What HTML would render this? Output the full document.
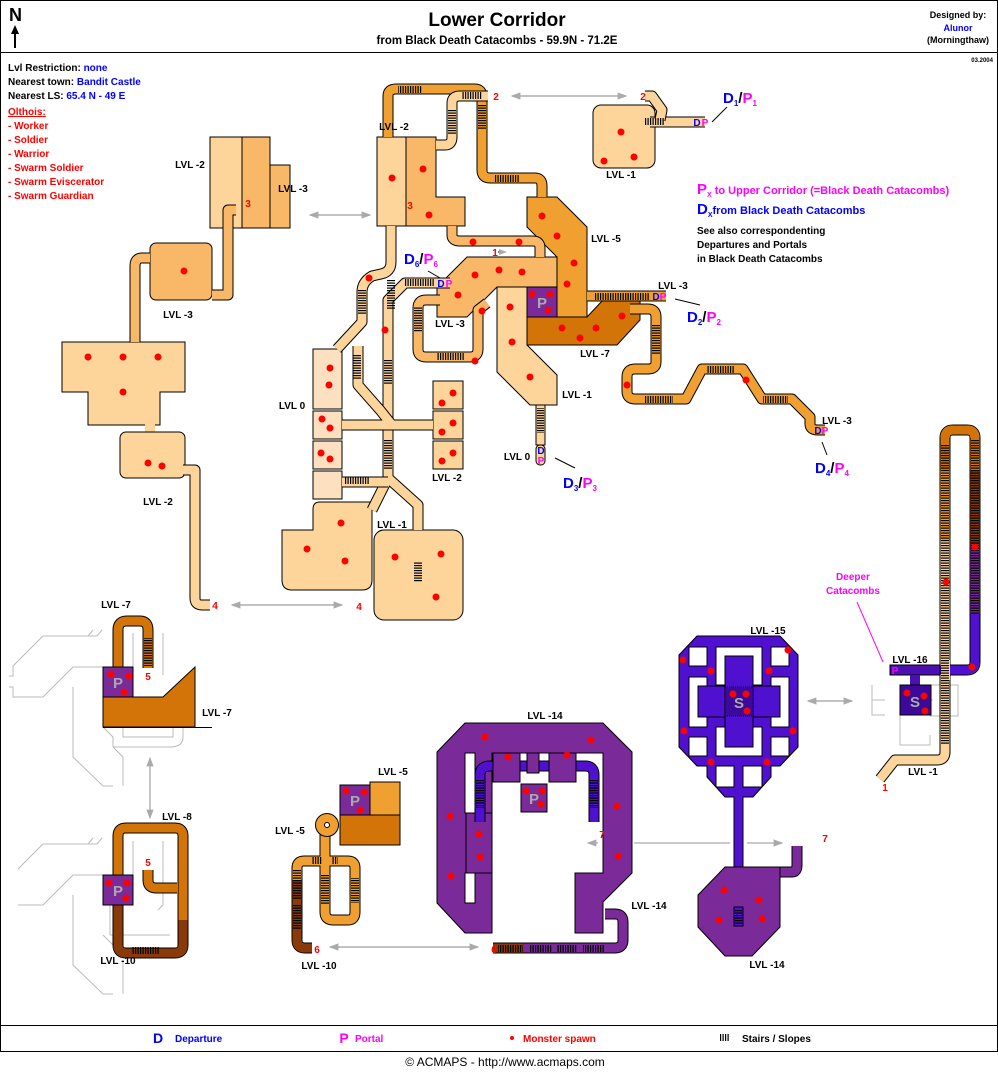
<!DOCTYPE html>
<html><head><meta charset="utf-8"><style>
html,body{margin:0;padding:0;background:#fff}
svg{display:block;font-family:"Liberation Sans",sans-serif;font-weight:bold}
.o{fill:none;stroke:#000;stroke-width:11;stroke-linejoin:round}
.f{fill:none;stroke-width:9;stroke-linejoin:round}
.l{stroke:#FDD49A}.m{stroke:#F9B768}.a{stroke:#F0A030}.d{stroke:#D27408}.b{stroke:#8A3A08}.p{stroke:#7B2A9A}.v{stroke:#5010D0}
.t{font-size:10px;text-anchor:middle;fill:#000}
.r{fill:#f00;font-size:10px;text-anchor:middle}
.g{fill:none;stroke:#bbb;stroke-width:1}
</style></head><body>
<svg width="998" height="1072" viewBox="0 0 998 1072" xmlns="http://www.w3.org/2000/svg">
<defs>
<pattern id="sv" width="2.5" height="10" patternUnits="userSpaceOnUse"><rect width="1.2" height="10" fill="#000"/></pattern>
<pattern id="sh" width="10" height="2.5" patternUnits="userSpaceOnUse"><rect width="10" height="1.2" fill="#000"/></pattern>
<marker id="ah" markerWidth="8" markerHeight="8" refX="7" refY="4" orient="auto"><path d="M0,1 L8,4 L0,7 Z" fill="#aaa"/></marker>
<path id="c1" d="M236,210 L228,210 L228,295 L212,295"/>
<path id="c2" d="M150,258 L142,258 Q135,258 135,266 L135,342"/>
<path id="c3" d="M183,470 L195,470 L195,598 Q195,605 202,605 L210,605"/>
<path id="c4" d="M388,137 L388,96 Q388,89 396,89 L475,89 Q482,89 482,97 L482,170 Q482,178 490,178 L535,178 Q542,178 542,186 L542,197"/>
<path id="c5" d="M436,145 L445,145 Q452,145 452,137 L452,103 Q452,96 460,96 L488,96"/>
<path id="c6" d="M452,226 L452,235 Q452,241 460,241 L533,241 Q540,241 540,248 L540,257"/>
<path id="c7" d="M391,226 L391,262 Q391,272 381,274 L372,276 Q362,282 362,292 L362,322 L337,349"/>
<path id="c8" d="M450,283 L405,283 L388,300 L388,478 L418,505 L418,530 M388,478 L372,510"/>
<path id="c9" d="M358,346 L358,385 L380,410 L392,425 L433,425 M342,425 L392,425 M342,482 L388,482"/>
<path id="c11" d="M440,300 L426,300 Q418,300 418,308 L418,349 Q418,357 426,357 L470,357 Q478,357 478,349 L478,310 L487,303"/>
<path id="c12" d="M587,296 L666,296"/>
<path id="c12b" d="M630,309 L648,309 Q656,309 656,317 L656,362 Q656,369 648,369 L635,369 Q627,369 627,377 L627,391 Q627,399 635,399 L686,399 L702,369 L743,369 L762,399 L792,399 L810,417 L810,424 Q810,430 818,430 L825,430"/>
<path id="c13" d="M650,122 L705,122"/>
<path id="c14" d="M645,96 L652,96 L662,110 L660,120"/>
<path id="c15" d="M118,697 L118,630 Q118,621 127,621 L140,621 Q148,621 148,630 L148,668"/>
<path id="c16" d="M118,875 L118,836 Q118,828 126,828 L175,828 Q183,828 183,836 L183,945 Q183,953 175,953 L126,953 Q118,953 118,945 L118,905"/>
<path id="c16b" d="M118,905 L118,945 Q118,953 126,953 L175,953 Q183,953 183,945 L183,920"/>
<path id="c17" d="M148,870 L148,880 Q148,888 156,888 L177,888"/>
<path id="c18" d="M325,832 L325,912 Q325,920 333,920 L348,920 Q355,920 355,912 L355,868 Q355,861 348,861 L304,861 Q297,861 297,868 L297,940 Q297,948 305,948 L312,948"/>
<path id="c18b" d="M297,880 L297,940 Q297,948 305,948 L312,948"/>
<path id="c19" d="M493,948 L615,948 Q623,948 623,940 L623,922 Q623,914 615,914 L605,914"/>
<path id="c20" d="M480,822 L480,775 Q480,766 490,766 L585,766 Q594,766 594,775 L594,822"/>
<path id="c21" d="M780,872 L792,872 Q797,872 797,865 L797,846"/>
<path id="c22" d="M880,779 L895,760 L937,760 Q945,760 945,752 L945,438 Q945,430 953,430 L967,430 Q975,430 975,438 L975,662 Q975,670 967,670 L905,670"/>
</defs>
<rect x="0.5" y="0.5" width="997" height="1051" fill="#fff" stroke="#000"/>
<line x1="0" y1="52.5" x2="998" y2="52.5" stroke="#000"/>
<line x1="0" y1="1025.5" x2="998" y2="1025.5" stroke="#000"/>
<text x="9" y="21" style="font-size:18px">N</text>
<line x1="15" y1="28" x2="15" y2="48" stroke="#000" stroke-width="2"/><path d="M11,34 L15,25 L19,34 Z"/>
<text x="497" y="26" style="font-size:19px" text-anchor="middle">Lower Corridor</text>
<text x="497" y="44" style="font-size:11.5px" text-anchor="middle">from Black Death Catacombs -    59.9N - 71.2E</text>
<text x="958" y="18" style="font-size:9px" text-anchor="middle">Designed by:</text>
<text x="958" y="31" style="font-size:9px;fill:#00f" text-anchor="middle">Alunor</text>
<text x="958" y="43" style="font-size:9px" text-anchor="middle">(Morningthaw)</text>
<text x="993" y="62" style="font-size:6px" text-anchor="end">03.2004</text>
<g style="font-size:10px">
<text x="8" y="71">Lvl Restriction: <tspan fill="#00f">none</tspan></text>
<text x="8" y="85">Nearest town: <tspan fill="#00f">Bandit Castle</tspan></text>
<text x="8" y="99">Nearest LS: <tspan fill="#00f">65.4 N - 49 E</tspan></text>
<text x="8" y="115" fill="#f00" text-decoration="underline">Olthois:</text>
<g fill="#f00"><text x="8" y="129">- Worker</text><text x="8" y="143">- Soldier</text><text x="8" y="157">- Warrior</text><text x="8" y="171">- Swarm Soldier</text><text x="8" y="185">- Swarm Eviscerator</text><text x="8" y="199">- Swarm Guardian</text></g>
<text x="697" y="194" fill="#f0f" style="font-size:11px"><tspan style="font-size:15px">P</tspan><tspan style="font-size:7px" dy="3">X</tspan><tspan dy="-3"> to Upper Corridor (=Black Death Catacombs)</tspan></text>
<text x="697" y="214" fill="#00f" style="font-size:11px"><tspan style="font-size:15px">D</tspan><tspan style="font-size:7px" dy="3">X</tspan><tspan dy="-3">from Black Death Catacombs</tspan></text>
<text x="697" y="234">See also correspondenting</text>
<text x="697" y="248">Departures and Portals</text>
<text x="697" y="262">in  Black Death Catacombs</text>
</g>
<g class="g">
<path d="M97,636 H43 L13,666 V676 H9 M9,687 H13 V697 H43 L73,667 H103 M73,687 V757 L103,786 H113 M123,786 V757 L113,747 V737 M103,727 L113,737 M113,747 Q118,747 128,747 H170 Q183,747 183,737 V727 M123,727 V737 H173 V727 M163,633 V675 M133,633 V667 M88,636 L93,630 M97,636 L102,630"/>
<path d="M97,844 H43 L18,869 M18,905 H43 L73,875 H103 M73,895 V965 L103,994 H113 M123,994 V960 M103,935 L113,945 M110,935 H170 M163,841 V905 L158,910 M133,841 V875 M88,844 L93,838 M97,844 L102,838 M110,905 V935" />
<path d="M872,685 V715 H885 M872,700 H885 M918,685 H958 V716 H930 M900,715 V745 H930 V735 M930,700 H933"/>
</g>
<g stroke="#000" stroke-width="1">
<rect x="210" y="137" width="33" height="91" fill="#FDD49A"/><rect x="242" y="137" width="28" height="91" fill="#F9B768"/><rect x="270" y="165" width="20" height="63" fill="#F9B768"/>
<rect x="150" y="243" width="62" height="57" rx="6" fill="#F9B768"/>
<path d="M62,342 H185 V392 H160 V425 H88 V392 H62 Z" fill="#FDD49A"/>
<rect x="145" y="424" width="10" height="10" fill="#FDD49A" stroke="none"/>
<rect x="120" y="432" width="65" height="46" rx="6" fill="#FDD49A"/>
<path d="M377,137 H436 V197 H465 V226 H377 Z" fill="#F9B768"/><rect x="377" y="137" width="29" height="89" fill="#FDD49A"/>
<rect x="593" y="105" width="62" height="63" rx="8" fill="#FDD49A"/>
<path d="M527,197 H557 L587,227 V317 H557 V257 L527,227 Z" fill="#F0A030"/>
<path d="M527,317 H587 L603,300 H640 V320 L617,345 H527 Z" fill="#D27408"/>
<path d="M467,257 H557 V287 H497 L467,317 H437 V287 Z" fill="#F9B768"/>
<path d="M497,287 H527 V345 L557,375 V405 H530 L497,372 Z" fill="#FDD49A"/>
<rect x="527" y="287" width="30" height="30" fill="#7B2A9A"/>
<rect x="536" y="405" width="9" height="40" fill="#FDD49A"/>
<rect x="536" y="445" width="9" height="20" rx="4" fill="#FDD49A"/>
<rect x="313" y="349" width="29" height="60" fill="#FDE0C0"/><rect x="313" y="411" width="29" height="28" fill="#FDE0C0"/><rect x="313" y="441" width="29" height="28" fill="#FDE0C0"/><rect x="313" y="471" width="29" height="28" fill="#FDE0C0"/>
<rect x="433" y="381" width="30" height="28" fill="#FDD49A"/><rect x="433" y="411" width="30" height="28" fill="#FDD49A"/><rect x="433" y="441" width="30" height="28" fill="#FDD49A"/>
<path d="M320,502 H372 V580 Q372,590 362,590 H292 Q282,590 282,580 V530 H313 V509 Q313,502 320,502 Z" fill="#FDD49A"/>
<rect x="374" y="530" width="89" height="90" rx="10" fill="#FDD49A"/>
</g>
<g>
<use href="#c1" class="o"/><use href="#c1" class="f m"/>
<use href="#c2" class="o"/><use href="#c2" class="f m"/>
<use href="#c3" class="o"/><use href="#c3" class="f l"/>
<use href="#c4" class="o"/><use href="#c4" class="f a"/>
<use href="#c5" class="o"/><use href="#c5" class="f l"/>
<use href="#c6" class="o"/><use href="#c6" class="f m"/>
<use href="#c7" class="o"/><use href="#c7" class="f l"/>
<use href="#c8" class="o"/><use href="#c8" class="f l"/>
<use href="#c9" class="o"/><use href="#c9" class="f l"/>
<use href="#c11" class="o"/><use href="#c11" class="f m"/>
<use href="#c12" class="o"/><use href="#c12" class="f a"/>
<use href="#c12b" class="o"/><use href="#c12b" class="f a"/>
<use href="#c13" class="o"/><use href="#c13" class="f l"/>
<use href="#c14" class="o"/><use href="#c14" class="f l"/>
<use href="#c15" class="o"/><use href="#c15" class="f d"/>
<use href="#c16" class="o"/><use href="#c16" class="f d"/><use href="#c16b" class="f b"/>
<use href="#c17" class="o"/><use href="#c17" class="f d"/>
<use href="#c18" class="o"/><use href="#c18" class="f a"/><use href="#c18b" class="f b"/>
<circle cx="327" cy="825" r="7" fill="none" stroke="#000" stroke-width="10"/><circle cx="327" cy="825" r="7" fill="none" stroke="#F0A030" stroke-width="8"/>
<use href="#c19" class="o"/><use href="#c19" class="f p"/>
<path d="M493,948 H524" class="f b"/>
<use href="#c21" class="o"/><use href="#c21" class="f p"/>
<use href="#c22" class="o"/><use href="#c22" class="f l"/>
<path d="M945,540 V438 Q945,430 953,430 L967,430 Q975,430 975,438 V480" class="f a"/>
<path d="M945,470 V438 Q945,430 953,430 L967,430 Q975,430 975,438 V470" class="f d"/>
<path d="M975,470 V545" class="f b"/><path d="M975,545 V615" class="f p"/>
<path d="M975,614 V662 Q975,670 967,670 L905,670" class="f v"/>
</g>
<g stroke="#000" stroke-width="1">
<path d="M103,697 H163 L195,667 V727 H103 Z" fill="#D27408"/>
<rect x="103" y="667" width="30" height="30" fill="#7B2A9A"/>
<rect x="103" y="875" width="30" height="30" fill="#7B2A9A"/>
<rect x="340" y="815" width="60" height="30" fill="#D27408"/>
<rect x="370" y="782" width="30" height="33" fill="#F0A030"/>
<rect x="340" y="785" width="30" height="30" fill="#7B2A9A"/>
</g>
<line x1="103" y1="727.5" x2="212" y2="727.5" stroke="#000"/>
<g stroke="#000" stroke-width="1">
<path d="M465,723 L603,723 L632,752 L632,873 L603,902 L603,933 L575,933 L575,873 L603,873 L603,753 L492,753 L492,933 L465,933 L437,903 L437,752 Z" fill="#7B2A9A"/>
<rect x="465" y="753" width="10" height="60" fill="#fff"/><rect x="465" y="873" width="10" height="30" fill="#fff"/>
<rect x="466" y="813" width="26" height="60" fill="#7B2A9A"/>
</g>
<use href="#c20" class="o"/><use href="#c20" class="f v"/>
<g stroke="#000" stroke-width="1" fill="#7B2A9A">
<rect x="493" y="753" width="27" height="29"/><rect x="549" y="753" width="27" height="29"/><rect x="527" y="753" width="12" height="20"/>
<rect x="521" y="784" width="26" height="28"/>
</g>
<path d="M697,636 L780,636 L798,655 L798,747 L780,766 L771,766 L771,777 L753,797 L743,797 L743,867 L734,867 L734,797 L725,797 L707,777 L707,766 L697,766 L679,747 L679,655 Z" fill="#5010D0" stroke="#000"/>
<g fill="#fff" stroke="#000" stroke-width="1">
<rect x="689" y="647" width="18" height="19"/><rect x="771" y="647" width="18" height="19"/>
<rect x="716" y="647" width="46" height="38"/><rect x="689" y="677" width="18" height="50"/><rect x="771" y="677" width="18" height="50"/>
<rect x="716" y="727" width="46" height="29"/>
<rect x="689" y="737" width="18" height="19"/><rect x="771" y="737" width="18" height="19"/>
<rect x="716" y="766" width="18" height="21"/><rect x="743" y="766" width="19" height="21"/>
</g>
<g fill="#5010D0" stroke="#000" stroke-width="1"><rect x="698" y="686" width="82" height="31"/><rect x="725" y="656" width="28" height="91"/></g>
<rect x="725" y="687" width="28" height="29" fill="#3C0A9A" stroke="#000" stroke-dasharray="1,1"/>
<path d="M725,867 L780,867 L780,927 L752,956 L725,956 L698,927 L698,895 Z" fill="#7B2A9A" stroke="#000"/>
<rect x="734" y="907" width="9" height="19" fill="#5010D0" stroke="#000"/>
<rect x="890" y="665" width="50" height="10" fill="#4A10B0" stroke="#000"/>
<rect x="910" y="675" width="10" height="10" fill="#4A10B0"/>
<rect x="900" y="685" width="31" height="30" fill="#3C0A9A" stroke="#000"/>
<rect x="941" y="660" width="9" height="20" fill="#FDD49A"/>
<g fill="url(#sv)">
<rect x="398" y="86" width="24" height="7"/><rect x="462" y="92" width="20" height="7"/><rect x="495" y="175" width="25" height="7"/>
<rect x="595" y="293" width="35" height="7"/><rect x="622" y="293" width="28" height="7"/><rect x="645" y="118" width="20" height="7"/>
<rect x="405" y="279" width="30" height="7"/><rect x="437" y="353" width="28" height="7"/>
<rect x="645" y="396" width="28" height="7"/><rect x="707" y="366" width="28" height="7"/><rect x="763" y="396" width="25" height="7"/>
<rect x="345" y="477" width="25" height="7"/><rect x="312" y="857" width="10" height="7"/><rect x="332" y="857" width="6" height="7"/>
<rect x="498" y="945" width="25" height="7"/><rect x="530" y="945" width="22" height="7"/><rect x="557" y="945" width="20" height="7"/><rect x="583" y="945" width="22" height="7"/>
<rect x="132" y="947" width="28" height="7"/>
</g>
<g fill="url(#sh)">
<rect x="478" y="105" width="8" height="25"/><rect x="448" y="110" width="8" height="25"/><rect x="387" y="280" width="8" height="30"/>
<rect x="358" y="290" width="8" height="25"/><rect x="652" y="325" width="8" height="30"/><rect x="537" y="408" width="7" height="25"/>
<rect x="353" y="355" width="8" height="25"/><rect x="384" y="440" width="8" height="30"/><rect x="384" y="360" width="8" height="25"/><rect x="414" y="307" width="8" height="25"/>
<rect x="144" y="638" width="8" height="28"/><rect x="293" y="870" width="8" height="30"/><rect x="293" y="905" width="8" height="25"/>
<rect x="321" y="875" width="8" height="30"/><rect x="351" y="878" width="8" height="25"/><rect x="476" y="780" width="8" height="28"/><rect x="590" y="780" width="8" height="28"/>
<rect x="941" y="445" width="8" height="300"/><rect x="971" y="440" width="8" height="175"/><rect x="735" y="910" width="7" height="15"/><rect x="414" y="562" width="8" height="20"/>
</g>
<g fill="#aaa" style="font-size:15px" text-anchor="middle">
<text x="542" y="308">P</text><text x="118" y="688">P</text><text x="118" y="896">P</text><text x="355" y="806">P</text><text x="534" y="804">P</text>
<text x="739" y="708">S</text><text x="915" y="707">S</text>
</g>
<text x="895" y="674" fill="#f0f" style="font-size:10px" text-anchor="middle">P</text>
<g style="font-size:10px" text-anchor="middle">
<text x="697" y="126" fill="#00f">D</text><text x="705" y="126" fill="#f0f">P</text>
<text x="656" y="300" fill="#00f">D</text><text x="663" y="300" fill="#f0f">P</text>
<text x="441" y="287" fill="#00f">D</text><text x="449" y="287" fill="#f0f">P</text>
<text x="818" y="434" fill="#00f">D</text><text x="825" y="434" fill="#f0f">P</text>
<text x="541" y="454" fill="#00f">D</text><text x="541" y="464" fill="#f0f">P</text>
</g>
<g style="font-size:15px">
<text x="723" y="103"><tspan fill="#00f">D</tspan><tspan fill="#00f" style="font-size:8px" dy="3">1</tspan><tspan dy="-3">/</tspan><tspan fill="#f0f">P</tspan><tspan fill="#f0f" style="font-size:8px" dy="3">1</tspan></text>
<text x="687" y="322"><tspan fill="#00f">D</tspan><tspan fill="#00f" style="font-size:8px" dy="3">2</tspan><tspan dy="-3">/</tspan><tspan fill="#f0f">P</tspan><tspan fill="#f0f" style="font-size:8px" dy="3">2</tspan></text>
<text x="563" y="488"><tspan fill="#00f">D</tspan><tspan fill="#00f" style="font-size:8px" dy="3">3</tspan><tspan dy="-3">/</tspan><tspan fill="#f0f">P</tspan><tspan fill="#f0f" style="font-size:8px" dy="3">3</tspan></text>
<text x="815" y="473"><tspan fill="#00f">D</tspan><tspan fill="#00f" style="font-size:8px" dy="3">4</tspan><tspan dy="-3">/</tspan><tspan fill="#f0f">P</tspan><tspan fill="#f0f" style="font-size:8px" dy="3">4</tspan></text>
<text x="404" y="264"><tspan fill="#00f">D</tspan><tspan fill="#00f" style="font-size:8px" dy="3">6</tspan><tspan dy="-3">/</tspan><tspan fill="#f0f">P</tspan><tspan fill="#f0f" style="font-size:8px" dy="3">6</tspan></text>
</g>
<g stroke="#000" stroke-width="1">
<line x1="727" y1="107" x2="712" y2="122"/><line x1="675" y1="299" x2="700" y2="305"/><line x1="555" y1="458" x2="575" y2="468"/><line x1="822" y1="442" x2="827" y2="455"/><line x1="428" y1="271" x2="440" y2="278"/>
<path d="M498,252 H506" marker-end="url(#ah)"/>
</g>
<line x1="857" y1="602" x2="883" y2="662" stroke="#f0f"/>
<text x="853" y="580" fill="#f0f" style="font-size:10px" text-anchor="middle">Deeper</text>
<text x="853" y="594" fill="#f0f" style="font-size:10px" text-anchor="middle">Catacombs</text>
<g stroke="#aaa" stroke-width="1.2">
<path d="M512,96 H626" marker-end="url(#ah)"/><path d="M626,96 H512" marker-end="url(#ah)"/>
<path d="M232,605 H342" marker-end="url(#ah)"/><path d="M342,605 H232" marker-end="url(#ah)"/>
<path d="M310,215 H370" marker-end="url(#ah)"/><path d="M370,215 H310" marker-end="url(#ah)"/>
<path d="M150,758 V818" marker-end="url(#ah)"/><path d="M150,818 V758" marker-end="url(#ah)"/>
<path d="M330,947 H478" marker-end="url(#ah)"/><path d="M478,947 H330" marker-end="url(#ah)"/>
<path d="M598,843 H588" marker-end="url(#ah)"/><line x1="634" y1="843" x2="730" y2="843"/><path d="M747,843 H782" marker-end="url(#ah)"/>
<path d="M808,701 H852" marker-end="url(#ah)"/><path d="M852,701 H808" marker-end="url(#ah)"/>
</g>
<g class="r">
<text x="496" y="100">2</text><text x="643" y="100">2</text><text x="248" y="207">3</text><text x="410" y="209">3</text><text x="495" y="256">1</text>
<text x="215" y="609">4</text><text x="359" y="610">4</text><text x="148" y="680">5</text><text x="148" y="866">5</text>
<text x="317" y="953">6</text><text x="494" y="953">6</text><text x="602" y="838">7</text><text x="825" y="842">7</text><text x="885" y="791">1</text>
</g>
<g class="t">
<text x="190" y="168">LVL -2</text><text x="293" y="192">LVL -3</text><text x="394" y="130">LVL -2</text><text x="621" y="178">LVL -1</text>
<text x="606" y="242">LVL -5</text><text x="673" y="289">LVL -3</text><text x="450" y="327">LVL -3</text><text x="595" y="357">LVL -7</text>
<text x="577" y="398">LVL -1</text><text x="517" y="460">LVL 0</text><text x="178" y="318">LVL -3</text><text x="292" y="409">LVL 0</text>
<text x="447" y="481">LVL -2</text><text x="158" y="505">LVL -2</text><text x="392" y="528">LVL -1</text><text x="837" y="424">LVL -3</text>
<text x="116" y="608">LVL -7</text><text x="217" y="716">LVL -7</text><text x="177" y="820">LVL -8</text><text x="118" y="964">LVL -10</text>
<text x="393" y="775">LVL -5</text><text x="290" y="834">LVL -5</text><text x="319" y="969">LVL -10</text><text x="545" y="719">LVL -14</text>
<text x="649" y="909">LVL -14</text><text x="768" y="634">LVL -15</text><text x="910" y="663">LVL -16</text><text x="923" y="775">LVL -1</text><text x="767" y="968">LVL -14</text>
</g>
<g fill="#f00">
<circle cx="184" cy="271" r="3.5"/><circle cx="88" cy="357" r="3.5"/><circle cx="123" cy="357" r="3.5"/><circle cx="158" cy="357" r="3.5"/><circle cx="123" cy="392" r="3.5"/>
<circle cx="148" cy="463" r="3.5"/><circle cx="162" cy="466" r="3.5"/>
<circle cx="392" cy="178" r="3.5"/><circle cx="423" cy="169" r="3.5"/><circle cx="429" cy="215" r="3.5"/><circle cx="621" cy="132" r="3.5"/><circle cx="634" cy="157" r="3.5"/><circle cx="604" cy="161" r="3.5"/>
<circle cx="542" cy="216" r="3.5"/><circle cx="557" cy="236" r="3.5"/><circle cx="574" cy="263" r="3.5"/><circle cx="567" cy="284" r="3.5"/>
<circle cx="473" cy="242" r="3.5"/><circle cx="519" cy="242" r="3.5"/><circle cx="475" cy="275" r="3.5"/><circle cx="499" cy="270" r="3.5"/><circle cx="522" cy="272" r="3.5"/><circle cx="458" cy="295" r="3.5"/>
<circle cx="532" cy="294" r="3.5"/><circle cx="550" cy="294" r="3.5"/><circle cx="548" cy="310" r="3.5"/><circle cx="562" cy="328" r="3.5"/><circle cx="596" cy="328" r="3.5"/><circle cx="580" cy="338" r="3.5"/><circle cx="622" cy="316" r="3.5"/>
<circle cx="482" cy="311" r="3.5"/><circle cx="510" cy="307" r="3.5"/><circle cx="512" cy="342" r="3.5"/><circle cx="530" cy="377" r="3.5"/><circle cx="475" cy="361" r="3.5"/><circle cx="627" cy="385" r="3.5"/><circle cx="746" cy="380" r="3.5"/>
<circle cx="369" cy="278" r="3.5"/><circle cx="385" cy="330" r="3.5"/>
<circle cx="330" cy="368" r="3.5"/><circle cx="329" cy="385" r="3.5"/><circle cx="322" cy="419" r="3.5"/><circle cx="330" cy="428" r="3.5"/><circle cx="321" cy="453" r="3.5"/><circle cx="330" cy="459" r="3.5"/>
<circle cx="453" cy="393" r="3.5"/><circle cx="442" cy="403" r="3.5"/><circle cx="453" cy="423" r="3.5"/><circle cx="442" cy="432" r="3.5"/><circle cx="453" cy="453" r="3.5"/><circle cx="442" cy="461" r="3.5"/>
<circle cx="341" cy="523" r="3.5"/><circle cx="307" cy="549" r="3.5"/><circle cx="345" cy="561" r="3.5"/><circle cx="395" cy="557" r="3.5"/><circle cx="441" cy="554" r="3.5"/><circle cx="436" cy="597" r="3.5"/>
<circle cx="111" cy="674" r="3.5"/><circle cx="129" cy="676" r="3.5"/><circle cx="124" cy="692" r="3.5"/><circle cx="109" cy="883" r="3.5"/><circle cx="127" cy="883" r="3.5"/><circle cx="126" cy="898" r="3.5"/>
<circle cx="346" cy="791" r="3.5"/><circle cx="364" cy="792" r="3.5"/><circle cx="360" cy="810" r="3.5"/>
<circle cx="485" cy="737" r="3.5"/><circle cx="591" cy="740" r="3.5"/><circle cx="508" cy="757" r="3.5"/><circle cx="567" cy="755" r="3.5"/><circle cx="526" cy="791" r="3.5"/><circle cx="542" cy="791" r="3.5"/><circle cx="541" cy="804" r="3.5"/>
<circle cx="450" cy="816" r="3.5"/><circle cx="479" cy="834" r="3.5"/><circle cx="480" cy="857" r="3.5"/><circle cx="451" cy="876" r="3.5"/><circle cx="617" cy="806" r="3.5"/><circle cx="618" cy="856" r="3.5"/>
<circle cx="683" cy="660" r="3.5"/><circle cx="788" cy="650" r="3.5"/><circle cx="711" cy="671" r="3.5"/><circle cx="769" cy="671" r="3.5"/><circle cx="733" cy="694" r="3.5"/><circle cx="746" cy="694" r="3.5"/><circle cx="747" cy="711" r="3.5"/>
<circle cx="684" cy="731" r="3.5"/><circle cx="793" cy="731" r="3.5"/><circle cx="711" cy="762" r="3.5"/><circle cx="767" cy="762" r="3.5"/>
<circle cx="724" cy="890" r="3.5"/><circle cx="759" cy="900" r="3.5"/><circle cx="719" cy="920" r="3.5"/><circle cx="762" cy="919" r="3.5"/>
<circle cx="907" cy="693" r="3.5"/><circle cx="924" cy="696" r="3.5"/><circle cx="925" cy="711" r="3.5"/><circle cx="972" cy="667" r="3.5"/><circle cx="975" cy="547" r="3.5"/><circle cx="946" cy="582" r="3.5"/>
</g>
<text x="158" y="1043" fill="#00f" style="font-size:14px" text-anchor="middle">D</text><text x="175" y="1042" fill="#00f" style="font-size:10px">Departure</text>
<text x="344" y="1043" fill="#f0f" style="font-size:14px" text-anchor="middle">P</text><text x="355" y="1042" fill="#f0f" style="font-size:10px">Portal</text>
<circle cx="512" cy="1038" r="2" fill="#f00"/><text x="523" y="1042" fill="#f00" style="font-size:10px">Monster spawn</text>
<rect x="720" y="1034" width="10" height="7" fill="url(#sv)"/><text x="742" y="1042" style="font-size:10px">Stairs / Slopes</text>
<text x="505" y="1066" style="font-size:12px;font-weight:normal" text-anchor="middle">© ACMAPS - http://www.acmaps.com</text>
</svg>
</body></html>
